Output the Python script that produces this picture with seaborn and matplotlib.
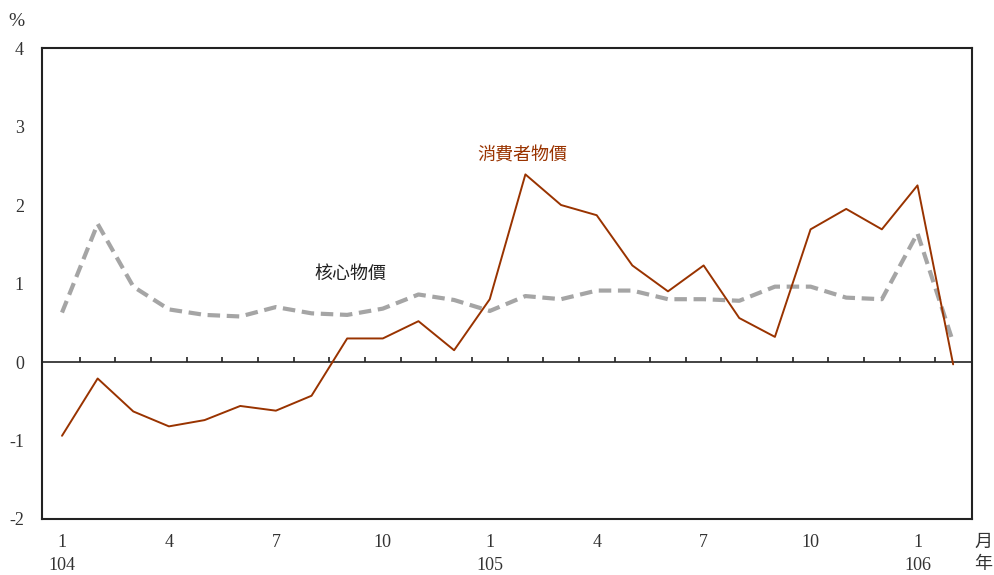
import matplotlib
matplotlib.use("Agg")
import matplotlib.pyplot as plt
import numpy as np
import pandas as pd
import seaborn as sb

# 104年1月 ~ 106年2月, 年增率 (%)
months = [1, 2, 3, 4, 5, 6, 7, 8, 9, 10, 11, 12,
          1, 2, 3, 4, 5, 6, 7, 8, 9, 10, 11, 12,
          1, 2]
years = [104] * 12 + [105] * 12 + [106] * 2
cpi = [-0.94, -0.21, -0.63, -0.82, -0.74, -0.56, -0.62, -0.43, 0.30, 0.30, 0.52, 0.15,
       0.80, 2.39, 2.00, 1.87, 1.23, 0.90, 1.23, 0.56, 0.32, 1.69, 1.95, 1.69,
       2.25, -0.03]
core = [0.63, 1.76, 0.96, 0.67, 0.60, 0.58, 0.70, 0.62, 0.60, 0.68, 0.86, 0.79,
        0.65, 0.84, 0.80, 0.91, 0.91, 0.80, 0.80, 0.78, 0.96, 0.96, 0.82, 0.80,
        1.64, 0.25]

red = "#993300"
gray = "#A5A5A5"

sb.set_style("white")
plt.rcParams['font.family'] = ['Liberation Serif', 'Noto Sans CJK TC']

df = pd.DataFrame({"idx": np.arange(len(months)), "cpi": cpi, "core": core})

fig = plt.figure(figsize=(9.94, 5.75), dpi=100)
ax = fig.add_axes([0.0423, 0.0974, 0.9356, 0.8191])

sb.lineplot(data=df, x="idx", y="core", ax=ax, color=gray, linewidth=3,
            linestyle=(0, (3, 1.6)))
sb.lineplot(data=df, x="idx", y="cpi", ax=ax, color=red, linewidth=1.4)

# zero line with month ticks
ax.axhline(0, color="#222222", linewidth=1.2, zorder=1)
ax.vlines(np.arange(len(months) - 1) + 0.5, 0, 0.065, color="#222222", linewidth=1.2, zorder=1)

ax.set_xlim(-0.56, len(months) - 1 + 0.53)
ax.set_ylim(-2, 4)
ax.set_yticks(range(-2, 5))
ax.set_yticklabels([str(v) for v in range(-2, 5)], fontsize=13, color="#333333")
ax.tick_params(axis="y", direction="in", length=5, width=1.2, color="#222222", pad=13)

pos = [i for i in range(len(months)) if months[i] in (1, 4, 7, 10)]
labels = []
for i in pos:
    if months[i] == 1:
        labels.append(f"{months[i]}\n{years[i]}")
    else:
        labels.append(str(months[i]))
ax.set_xticks(pos)
ax.set_xticklabels(labels, fontsize=13, color="#333333", linespacing=1.45)
ax.tick_params(axis="x", length=0, pad=11)
ax.set_xlabel("")
ax.set_ylabel("")

for s in ax.spines.values():
    s.set_color("#222222")
    s.set_linewidth(1.5)

fig.text(983 / 994, 1 - 542 / 575, "月", fontsize=13, ha="center", va="center", color="#333333")
fig.text(983 / 994, 1 - 564 / 575, "年", fontsize=13, ha="center", va="center", color="#333333")
fig.text(16 / 994, 1 - 21 / 575, "%", fontsize=14, ha="center", va="center", color="#333333")

ax.text(12.9, 2.63, "消費者物價", fontsize=13, color=red, ha="center", va="center")
ax.text(8.1, 1.12, "核心物價", fontsize=13, color="#222222", ha="center", va="center")

fig.savefig("out.png", dpi=100)
